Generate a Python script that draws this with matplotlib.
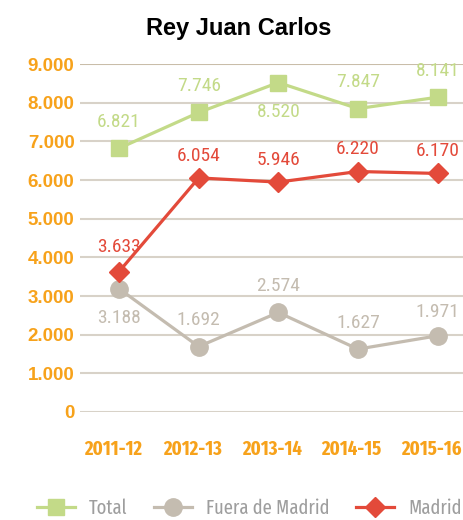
import matplotlib
matplotlib.use('Agg')
import matplotlib.pyplot as plt
import numpy as np

years = ['2011-12', '2012-13', '2013-14', '2014-15', '2015-16']
total = [6821, 7746, 8520, 7847, 8141]
fuera = [3188, 1692, 2574, 1627, 1971]
madrid = [3633, 6054, 5946, 6220, 6170]

cond = 'Roboto Condensed'
xcond = 'Fira Sans Extra Condensed'
plain = 'Liberation Sans'

green = '#c3da88'
gray = '#c4bcb0'
red = '#e34a3a'
orange = '#f7a21b'

fig = plt.figure(figsize=(4.63, 5.2), dpi=100)
ax = fig.add_axes([0.173, 0.2077, 0.827, 0.6692])
x = np.arange(len(years))

ax.plot(x, total, color=green, lw=2.3, marker='s', ms=12, label='Total', clip_on=False, zorder=3)
ax.plot(x, fuera, color=gray, lw=2.3, marker='o', ms=12.5, label='Fuera de Madrid', clip_on=False, zorder=3)
ax.plot(x, madrid, color=red, lw=2.3, marker='D', ms=10.5, label='Madrid', clip_on=False, zorder=4)

fmt = lambda v: f'{v/1000:.3f}'
# label offsets in points, positive = above
tot_off = [19, 19, -21, 19, 19]
fue_off = [-21, 19, 19, 19, 17]
mad_off = [18, 16, 16, 16, 16]
for i in x:
    ax.annotate(fmt(total[i]), (i, total[i]), xytext=(0, tot_off[i]), textcoords='offset points',
                ha='center', va='center', color=green, fontsize=14, family=cond)
    ax.annotate(fmt(fuera[i]), (i, fuera[i]), xytext=(0, fue_off[i]), textcoords='offset points',
                ha='center', va='center', color=gray, fontsize=14, family=cond)
    ax.annotate(fmt(madrid[i]), (i, madrid[i]), xytext=(0, mad_off[i]), textcoords='offset points',
                ha='center', va='center', color=red, fontsize=14, family=cond)

ax.set_xlim(-0.49, 4.32)
ax.set_ylim(0, 9000)
ax.set_yticks(range(0, 9001, 1000))
ax.set_yticklabels(['0'] + [f'{v}.000' for v in range(1, 10)])
# the category labels sit a little left of the markers in the original
ax.set_xticks(x - 0.08)
ax.set_xticklabels(years)
for t in ax.get_yticklabels():
    t.set_fontfamily(plain)
    t.set_fontweight('bold')
    t.set_fontsize(13.5)
    t.set_color(orange)
for t in ax.get_xticklabels():
    t.set_fontfamily(xcond)
    t.set_fontweight('bold')
    t.set_fontsize(14.5)
    t.set_color(orange)
ax.tick_params(axis='y', length=0, pad=4)
ax.tick_params(axis='x', length=0, pad=20)
ax.grid(axis='y', color='#d8d2c8', lw=1.5)
ax.set_axisbelow(True)
ax.get_ygridlines()[-1].set_color('#c9bda9')
for s in ax.spines.values():
    s.set_visible(False)

fig.text(0.516, 0.946, 'Rey Juan Carlos', ha='center', va='center', fontsize=17,
         fontweight='bold', family=plain)

leg = fig.legend(loc='center', bbox_to_anchor=(0.538, 0.022), ncol=3, frameon=False,
                 prop={'family': xcond, 'size': 14.5}, handlelength=1.9, columnspacing=1.3,
                 handletextpad=0.7)
for t in leg.get_texts():
    t.set_color('#9e9e9e')

fig.savefig('out.png', dpi=100)
